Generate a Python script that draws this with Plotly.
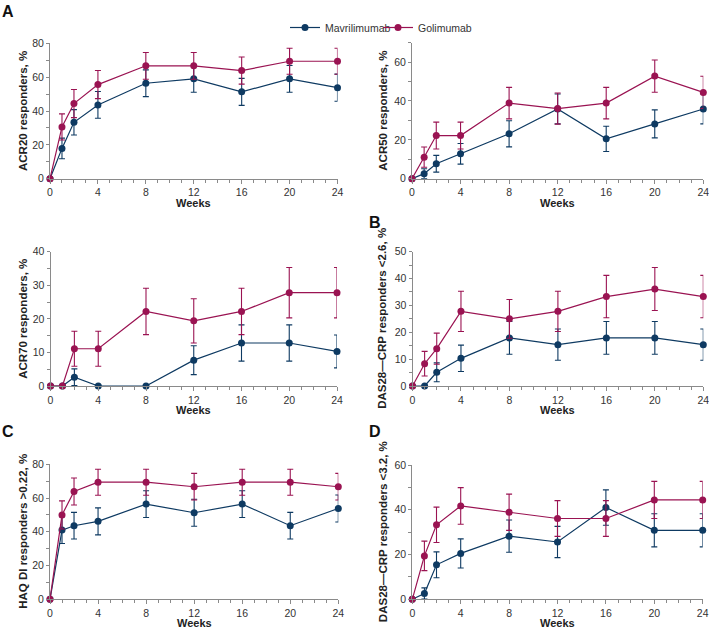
import plotly.graph_objects as go

weeks = [0, 1, 2, 4, 8, 12, 16, 20, 24]

acr20_mav = [0, 17.9, 33.3, 43.6, 56.4, 59.0, 51.3, 59.0, 53.8]
acr20_mav_err = [0, 6.1, 7.5, 7.9, 7.9, 7.9, 8.0, 7.9, 8.0]
acr20_gol = [0, 30.6, 44.4, 55.6, 66.7, 66.7, 63.9, 69.4, 69.4]
acr20_gol_err = [0, 7.7, 8.3, 8.3, 7.9, 7.9, 8.0, 7.7, 7.7]

acr50_mav = [0, 2.6, 7.7, 12.8, 23.1, 35.9, 20.5, 28.2, 35.9]
acr50_mav_err = [0, 2.5, 4.3, 5.3, 6.7, 7.7, 6.5, 7.2, 7.7]
acr50_gol = [0, 11.1, 22.2, 22.2, 38.9, 36.1, 38.9, 52.8, 44.4]
acr50_gol_err = [0, 5.2, 6.9, 6.9, 8.1, 8.0, 8.1, 8.3, 8.3]

acr70_mav = [0, 0, 2.6, 0, 0, 7.7, 12.8, 12.8, 10.3]
acr70_mav_err = [0, 0, 2.5, 0, 0, 4.3, 5.4, 5.4, 4.9]
acr70_gol = [0, 0, 11.1, 11.1, 22.2, 19.4, 22.2, 27.8, 27.8]
acr70_gol_err = [0, 0, 5.2, 5.2, 6.9, 6.6, 6.9, 7.5, 7.5]

das26_mav = [0, 0, 5.1, 10.3, 17.9, 15.4, 17.9, 17.9, 15.4]
das26_mav_err = [0, 0, 3.5, 4.9, 6.1, 5.8, 6.1, 6.1, 5.8]
das26_gol = [0, 8.3, 13.9, 27.8, 25.0, 27.8, 33.3, 36.1, 33.3]
das26_gol_err = [0, 4.6, 5.8, 7.5, 7.2, 7.5, 7.9, 8.0, 7.9]

haq_mav = [0, 41.0, 43.6, 46.2, 56.4, 51.3, 56.4, 43.6, 53.8]
haq_mav_err = [0, 7.9, 7.9, 8.0, 7.9, 8.0, 7.9, 7.9, 8.0]
haq_gol = [0, 50.0, 63.9, 69.4, 69.4, 66.7, 69.4, 69.4, 66.7]
haq_gol_err = [0, 8.3, 8.0, 7.7, 7.7, 7.9, 7.7, 7.7, 7.9]

das32_mav = [0, 2.6, 15.4, 20.5, 28.2, 25.6, 41.0, 30.8, 30.8]
das32_mav_err = [0, 2.5, 5.8, 6.5, 7.2, 7.0, 7.9, 7.4, 7.4]
das32_gol = [0, 19.4, 33.3, 41.7, 38.9, 36.1, 36.1, 44.4, 44.4]
das32_gol_err = [0, 6.6, 7.9, 8.2, 8.1, 8.0, 8.0, 8.3, 8.3]

y_titles = ["ACR20 responders, %", "ACR50 responders, %", "ACR70 responders, %",
            "DAS28\u2014CRP responders <2.6, %", "HAQ DI responders >0.22, %",
            "DAS28\u2014CRP responders <3.2, %"]
x_title = "Weeks"
y_max = [80, 70, 40, 50, 80, 60]
y_dtick = [20, 20, 10, 10, 20, 20]
y_minor = [10, 10, 5, 5, 10, 10]
panel_letters = ["A", "B", "C", "D"]

series = [
    (acr20_mav, acr20_mav_err, acr20_gol, acr20_gol_err),
    (acr50_mav, acr50_mav_err, acr50_gol, acr50_gol_err),
    (acr70_mav, acr70_mav_err, acr70_gol, acr70_gol_err),
    (das26_mav, das26_mav_err, das26_gol, das26_gol_err),
    (haq_mav, haq_mav_err, haq_gol, haq_gol_err),
    (das32_mav, das32_mav_err, das32_gol, das32_gol_err),
]

W, H = 709, 627
MAV_C = "#0e3a62"
GOL_C = "#9a1352"
FONT = "Liberation Sans, Arial, sans-serif"

# pixel boxes (x0, x1, ytop, ybottom)
boxes = [
    (50, 337.5, 43.3, 178.7),
    (412, 703.3, 42.7, 178.7),
    (50.5, 337, 251.7, 386),
    (412.5, 703.3, 251.7, 386),
    (50, 338.3, 464.3, 599.3),
    (412.3, 702.7, 465, 599.3),
]
ytitle_x = [23, 383, 23, 382, 23, 383]

fig = go.Figure()
for i, (mv, me, gv, ge) in enumerate(series):
    xa = "x" if i == 0 else f"x{i+1}"
    ya = "y" if i == 0 else f"y{i+1}"
    for name, vals, errs, col, lg in (("Mavrilimumab", mv, me, MAV_C, "legend"),
                                      ("Golimumab", gv, ge, GOL_C, "legend2")):
        fig.add_trace(go.Scatter(
            x=weeks, y=vals, name=name, xaxis=xa, yaxis=ya, legend=lg,
            mode="lines+markers", showlegend=(i == 0),
            line=dict(color=col, width=1.2),
            marker=dict(color=col, size=7),
            error_y=dict(type="data", symmetric=False, array=errs,
                         arrayminus=[min(e, v) for e, v in zip(errs, vals)],
                         color=col, thickness=1.1, width=3),
            cliponaxis=False,
        ))
    x0, x1, yt, yb = boxes[i]
    ax_common = dict(showline=True, linecolor="#8a8a8a", linewidth=1, automargin=False,
                     showgrid=False, zeroline=False, ticks="outside",
                     tickcolor="#8a8a8a", tickfont=dict(size=10.5, color="#333", family=FONT))
    fig.layout[("xaxis" if i == 0 else f"xaxis{i+1}")] = dict(
        domain=[x0 / W, x1 / W], anchor=ya, range=[0, 24], dtick=4, tick0=0,
        ticklen=4, ticklabeloverflow="allow",
        minor=dict(dtick=1, ticks="outside", ticklen=3, tickcolor="#8a8a8a"),
        **ax_common)
    fig.layout[("yaxis" if i == 0 else f"yaxis{i+1}")] = dict(
        domain=[1 - yb / H, 1 - yt / H], anchor=xa, range=[0, y_max[i]], dtick=y_dtick[i],
        ticklen=3, minor=dict(dtick=y_minor[i], ticks="outside", ticklen=3, tickcolor="#8a8a8a"),
        **ax_common)
    # axis titles
    fig.add_annotation(text=f"<b>{x_title}</b>", xref="paper", yref="paper",
                       x=(x0 + x1) / 2 / W, y=1 - (yb + 24) / H,
                       xanchor="center", yanchor="middle", showarrow=False,
                       font=dict(size=11, color="#222", family=FONT))
    fig.add_annotation(text=f"<b>{y_titles[i]}</b>", xref="paper", yref="paper",
                       x=ytitle_x[i] / W, y=1 - (yt + yb) / 2 / H, textangle=-90,
                       xanchor="center", yanchor="middle", showarrow=False,
                       font=dict(size=11.5, color="#222", family=FONT))

letter_pos = [(0, 1), (367, 212), (0, 421), (367, 421)]
for letter, (px, py) in zip(panel_letters, letter_pos):
    fig.add_annotation(text=f"<b>{letter}</b>", xref="paper", yref="paper",
                       x=px / W, y=1 - py / H, xanchor="left", yanchor="top",
                       showarrow=False, font=dict(size=16, color="#111", family=FONT))

leg_common = dict(orientation="h", yanchor="top", y=1 - 13 / H, xanchor="left",
                  font=dict(size=10.5, color="#333", family=FONT), itemwidth=30,
                  bgcolor="rgba(0,0,0,0)")
fig.update_layout(
    width=W, height=H, margin=dict(l=0, r=0, t=0, b=0, autoexpand=False),
    paper_bgcolor="white", plot_bgcolor="white",
    font=dict(family=FONT, size=11, color="#333"),
    legend=dict(x=285 / W, **leg_common),
    legend2=dict(x=378 / W, **leg_common),
)

fig.write_html("out.html", config={"displayModeBar": False},
               post_script="document.body.style.margin='0';document.body.style.overflow='hidden';")
